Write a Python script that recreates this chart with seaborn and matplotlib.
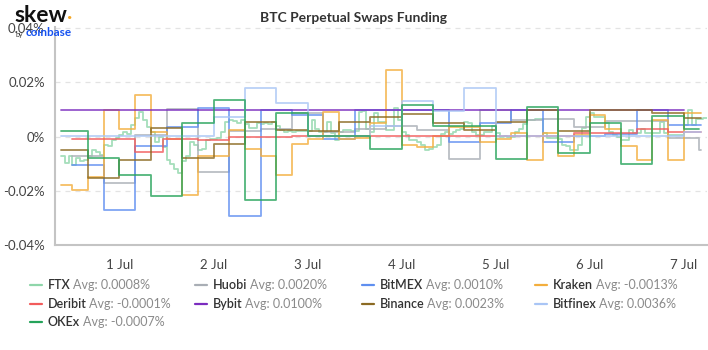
import matplotlib
matplotlib.use("Agg")
import matplotlib.pyplot as plt
from matplotlib.lines import Line2D
import numpy as np
import pandas as pd
import seaborn as sns

# time axis: hours since 1 Jul 00:00, rates in %
names = ["FTX", "Huobi", "BitMEX", "Kraken", "Deribit", "Bybit", "Binance", "Bitfinex", "OKEx"]
averages = ["0.0008%", "0.0020%", "0.0010%", "-0.0013%", "-0.0001%", "0.0100%", "0.0023%", "0.0036%", "-0.0007%"]
colors = ["#8fd6aa", "#a9aeb5", "#5f8ff0", "#f3ae3d", "#f25c5c", "#7b2cbf", "#8b6a23", "#a9c5f5", "#25a35a"]

# FTX pays hourly
ftx_hours = list(range(-15, 150))
ftx_vals = [
    -0.0073, -0.0098, -0.0073, -0.0104, -0.0080, -0.0090, -0.0085, -0.0070, -0.0049, -0.0055,
    -0.0067, -0.0030, -0.0035, -0.0012, -0.0005, 0.0005, 0.0018, 0.0010, 0.0043, 0.0070,
    0.0092, 0.0060, 0.0037, 0.0018, -0.0018, 0.0000, -0.0040, -0.0086, -0.0100, -0.0120,
    -0.0134, -0.0090, -0.0073, -0.0018, -0.0030, -0.0050, -0.0045, -0.0012, -0.0010, -0.0009,
    -0.0006, 0.0018, 0.0055, 0.0060, 0.0058, 0.0050, 0.0060, 0.0045, 0.0032, 0.0032,
    0.0050, 0.0045, 0.0050, 0.0045, 0.0055, 0.0040, 0.0025, 0.0018, 0.0020, 0.0018,
    0.0022, 0.0020, 0.0020, 0.0022, 0.0060, 0.0030, 0.0018, 0.0018, 0.0055, 0.0012,
    -0.0012, 0.0018, 0.0025, 0.0025, 0.0020, 0.0020, 0.0092, 0.0095, 0.0030, 0.0018,
    0.0087, 0.0055, 0.0055, 0.0025, 0.0025, 0.0104, 0.0060, 0.0018, 0.0005, -0.0012,
    -0.0012, -0.0020, -0.0030, -0.0049, -0.0045, -0.0040, -0.0030, 0.0010, 0.0018, 0.0010,
    0.0018, 0.0025, 0.0030, 0.0055, 0.0050, 0.0018, 0.0006, 0.0006, 0.0018, 0.0018,
    0.0040, 0.0015, 0.0000, 0.0002, -0.0002, 0.0000, 0.0018, 0.0030, 0.0045, 0.0060,
    0.0060, 0.0067, 0.0067, 0.0012, -0.0005, -0.0005, -0.0005, -0.0010, -0.0030, -0.0035,
    -0.0049, -0.0049, -0.0030, 0.0032, 0.0073, 0.0087, 0.0073, 0.0073, 0.0073, 0.0050,
    0.0018, 0.0005, 0.0000, -0.0012, -0.0012, 0.0025, 0.0012, 0.0012, 0.0030, 0.0012,
    0.0012, 0.0012, 0.0012, 0.0055, 0.0012, 0.0006, 0.0006, 0.0006, 0.0006, 0.0043,
    0.0098, 0.0043, 0.0067, 0.0067, 0.0070,
]

# Huobi / BitMEX steps change at 04, 12, 20
offset_hours = [-12, -4, 4, 12, 20, 28, 36, 44, 52, 60, 68, 76, 84, 92, 100, 108, 116, 124, 132, 140]
huobi_hours = offset_hours + [148]
huobi_vals = [-0.0073, -0.0171, 0.0006, 0.0101, -0.0132, 0.0020, 0.0030, 0.0086, 0.0018, 0.0030,
              0.0040, 0.0025, -0.0082, 0.0100, 0.0060, 0.0064, 0.0037, 0.0058, 0.0058, -0.0004, -0.0049]
bitmex_vals = [-0.0104, -0.0270, -0.0034, 0.0037, 0.0104, -0.0293, 0.0100, 0.0081, -0.0008, 0.0100,
               0.0100, 0.0100, -0.0018, 0.0050, 0.0100, -0.0018, 0.0002, 0.0008, 0.0100, 0.0043]

# Kraken every 4 hours
kraken_hours = [-15] + list(range(-12, 148, 4))
kraken_vals = [-0.0180, -0.0198, -0.0150, 0.0098, 0.0027, 0.0155, 0.0018, -0.0008, -0.0216, -0.0070,
               -0.0070, 0.0025, -0.0046, -0.0073, -0.0143, -0.0027, -0.0008, 0.0090, -0.0008, -0.0005,
               0.0051, 0.0247, -0.0030, -0.0039, 0.0003, 0.0037, 0.0037, -0.0020, -0.0008, 0.0015,
               -0.0085, 0.0015, -0.0073, 0.0005, 0.0080, 0.0030, -0.0033, -0.0088, 0.0060, -0.0088, 0.0086]

deribit_hours = [-12, 4, 11, 20, 28, 44, 116, 132, 140]
deribit_vals = [-0.0009, -0.0055, -0.0010, -0.0012, -0.0003, 0.0002, 0.0015, 0.0030, 0.0016]

bybit_hours = [-15]
bybit_vals = [0.0100]

# Binance / Bitfinex / OKEx steps change at 00, 08, 16
eight_hours = [-15, -8] + list(range(0, 148, 8))
binance_vals = [-0.0049, -0.0153, -0.0086, 0.0033, -0.0079, -0.0028, 0.0055, 0.0025, 0.0022, 0.0053,
                0.0073, 0.0082, 0.0049, 0.0025, 0.0055, 0.0100, 0.0020, 0.0100, 0.0100, 0.0086, 0.0070]
bitfinex_vals = [0.0003, 0.0003, 0.0003, 0.0003, 0.0003, 0.0071, 0.0178, 0.0125, 0.0003, 0.0003,
                 0.0040, 0.0132, 0.0095, 0.0180, 0.0003, 0.0003, 0.0003, 0.0003, 0.0003, 0.0003, 0.0018]
okex_vals = [0.0022, -0.0077, -0.0140, -0.0220, 0.0051, 0.0137, -0.0235, 0.0086, 0.0003, 0.0003,
             -0.0045, 0.0116, 0.0040, 0.0040, -0.0084, 0.0108, -0.0061, 0.0051, -0.0101, 0.0076, 0.0030]

series = [
    ("FTX", ftx_hours, ftx_vals, 150),
    ("Huobi", huobi_hours, huobi_vals, 148.5),
    ("BitMEX", offset_hours, bitmex_vals, 148.5),
    ("Kraken", kraken_hours, kraken_vals, 148.5),
    ("Deribit", deribit_hours, deribit_vals, 148.5),
    ("Bybit", bybit_hours, bybit_vals, 144),
    ("Binance", eight_hours, binance_vals, 148.5),
    ("Bitfinex", eight_hours, bitfinex_vals, 148.5),
    ("OKEx", eight_hours, okex_vals, 148),
]

rows = []
for name, hrs, vals, end in series:
    hrs = list(hrs) + [end]
    vals = list(vals) + [vals[-1]]
    rows += [(name, h, v) for h, v in zip(hrs, vals)]
df = pd.DataFrame(rows, columns=["exchange", "hour", "rate"])

sns.set_style("white")
plt.rcParams["font.family"] = ["Lato", "DejaVu Sans"]

fig = plt.figure(figsize=(7.08, 3.5), dpi=100)
ax = fig.add_axes([0.078, 0.30, 0.921, 0.623])

sns.lineplot(data=df, x="hour", y="rate", hue="exchange", hue_order=names,
             palette=dict(zip(names, colors)), drawstyle="steps-post", estimator=None,
             linewidth=1.3, alpha=0.8, legend=False, ax=ax)

ax.set_xlim(-16.4, 150)
ax.set_ylim(-0.04, 0.0405)
ax.set_yticks([-0.04, -0.02, 0, 0.02, 0.04])
ax.set_yticklabels(["-0.04%", "-0.02%", "0%", "0.02%", "0.04%"])
day_ticks = list(range(0, 145, 24))
ax.set_xticks(day_ticks)
ax.set_xticklabels([f"{d} Jul" for d in range(1, 8)])
ax.set_xlabel("")
ax.set_ylabel("")
ax.grid(axis="y", color="#e3e3e3", linestyle=(0, (4, 4)), linewidth=0.9)
ax.set_axisbelow(True)
for s in ["top", "right"]:
    ax.spines[s].set_visible(False)
for s in ["left", "bottom"]:
    ax.spines[s].set_color("#c4c4c4")
    ax.spines[s].set_linewidth(1.5)
ax.tick_params(axis="both", colors="#c4c4c4", labelcolor="#444444", labelsize=9.5, length=4, width=1)
ax.tick_params(axis="x", pad=6)

fig.text(0.5, 1 - 18 / 350, "BTC Perpetual Swaps Funding", ha="center", va="center",
         fontsize=10, fontweight="bold", color="#333333")

# logo
logo = fig.text(14 / 708, 1 - 16 / 350, "skew", ha="left", va="center", fontsize=16.5,
                fontweight="bold", color="#111111")
ax.annotate(".", xy=(1, 0.18), xycoords=logo, va="bottom", ha="left", fontsize=16,
            fontweight="bold", color="#f5a623", annotation_clip=False)
fig.text(16 / 708, 1 - 34 / 350, "by", ha="left", va="center", fontsize=5, color="#333333")
fig.text(26 / 708, 1 - 32 / 350, "coinbase", ha="left", va="center", fontsize=8.5,
         fontweight="bold", color="#1652f0")

# legend
col_x = [30, 195, 362, 535]
row_y = [285, 304, 322]
for i, (name, avg, c) in enumerate(zip(names, averages, colors)):
    x0 = col_x[i % 4]
    y0 = 350 - row_y[i // 4]
    fig.add_artist(Line2D([x0 / 708, (x0 + 12) / 708], [y0 / 350, y0 / 350], color=c,
                          linewidth=1.6, transform=fig.transFigure))
    t = fig.text((x0 + 18) / 708, y0 / 350, name, ha="left", va="center", fontsize=9,
                 fontweight="semibold", color="#333333")
    ax.annotate(f"Avg: {avg}", xy=(1, 0.5), xycoords=t, xytext=(1.8, 0), textcoords="offset points",
                va="center", ha="left", fontsize=9, color="#8a8a8a", annotation_clip=False)

fig.savefig("out.png", dpi=100)
